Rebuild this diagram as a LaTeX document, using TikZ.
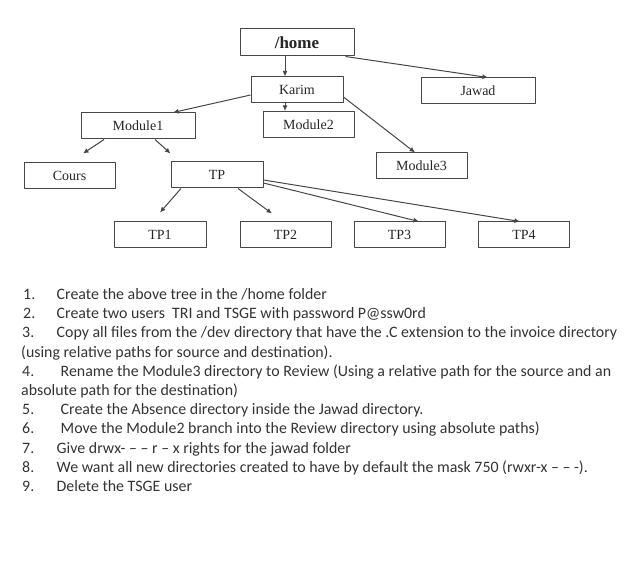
\documentclass[tikz,border=0pt]{standalone}
\usepackage{fontspec}
\setmainfont{Liberation Serif}
\newfontfamily\listfont{Carlito}
\usetikzlibrary{positioning,arrows.meta,calc}
\definecolor{linegray}{HTML}{474747}
\definecolor{textgray}{HTML}{333333}

\begin{document}
\begin{tikzpicture}[x=1pt,y=-1pt,line join=round,
  dir/.style={draw=linegray,line width=1pt,minimum width=91pt,minimum height=26pt,
    inner sep=0pt,font=\fontsize{14}{15}\selectfont,text=black!85},
  arr/.style={linegray,line width=1pt,-{Latex[length=5.5pt,width=5pt]}},
  item/.style={anchor=base west,inner sep=0pt,text=textgray,font=\listfont\fontsize{15.9}{18}\selectfont}]
  \useasboundingbox (0,0) rectangle (630,575);
  % tree
  \node[dir,minimum width=114pt,minimum height=27pt,font=\bfseries\fontsize{17}{18}\selectfont] (home) at (297,42.5) {/home};
  \node[dir,minimum width=92pt] (karim) at (297,90) {Karim};
  \node[dir,minimum width=114pt] (jawad) at (478,91) {Jawad};
  \node[dir,minimum width=114pt] (mod1) at (138,126) {Module1};
  \node[dir] (mod2) at (308.5,124.5) {Module2};
  \node[dir] (mod3) at (421.5,166) {Module3};
  \node[dir] (cours) at (69.5,176) {Cours};
  \node[dir,minimum width=92pt] (tp) at (217,175) {TP};
  \node[dir,minimum width=92pt] (tp1) at (160,235) {TP1};
  \node[dir] (tp2) at (285.5,235) {TP2};
  \node[dir] (tp3) at (399.5,235) {TP3};
  \node[dir] (tp4) at (524,235) {TP4};
  \draw[arr] ([xshift=-12pt]home.south) -- ([xshift=-12pt]karim.north);
  \draw[arr] ([xshift=-9pt]home.south east) -- ([xshift=10pt]jawad.north);
  \draw[arr] ([yshift=-5pt]karim.west) -- ([xshift=35pt]mod1.north);
  \draw[arr] ([xshift=-12pt]karim.south) -- ([xshift=-23.5pt]mod2.north);
  \draw[arr] ([yshift=-7pt]karim.east) -- ([xshift=-6.5pt]mod3.north);
  \draw[arr] ([xshift=-34pt]mod1.south) -- ([xshift=13.5pt,yshift=9pt]cours.north);
  \draw[arr] ([xshift=17pt]mod1.south) -- ([yshift=8pt]tp.north west);
  \draw[arr] ([xshift=-36pt]tp.south) -- ([yshift=9pt]tp1.north);
  \draw[arr] ([xshift=21pt]tp.south) -- ([xshift=-13.5pt,yshift=8pt]tp2.north);
  \draw[arr] ([yshift=-8pt]tp.east) -- ([xshift=19.5pt]tp3.north);
  \draw[arr] ([yshift=-5pt]tp.east) -- ([xshift=-4pt]tp4.north);
  % exercise list
  \node[item] (n1) at (23,299.5) {1.};
  \node[item] (t1) at (56.5,299.5) {Create the above tree in the /home folder};
  \node[item] (n2) at (23,318.7) {2.};
  \node[item] (t2) at (56.5,318.7) {Create two users\ \ TRI and TSGE with password P@ssw0rd};
  \node[item] (n3) at (22,337.9) {3.};
  \node[item] (t3) at (56.5,337.9) {Copy all files from the /dev directory that have the .C extension to the invoice directory};
  \node[item] (t3b) at (21,357.1) {(using relative paths for source and destination).};
  \node[item] (n4) at (22,376.3) {4.};
  \node[item] (t4) at (60.5,376.3) {Rename the Module3 directory to Review (Using a relative path for the source and an};
  \node[item] (t4b) at (21,395.5) {absolute path for the destination)};
  \node[item] (n5) at (22,414.7) {5.};
  \node[item] (t5) at (60.5,414.7) {Create the Absence directory inside the Jawad directory.};
  \node[item] (n6) at (22,433.9) {6.};
  \node[item] (t6) at (60.5,433.9) {Move the Module2 branch into the Review directory using absolute paths)};
  \node[item] (n7) at (22,453.1) {7.};
  \node[item] (t7) at (56.5,453.1) {Give drwx- – – r – x rights for the jawad folder};
  \node[item] (n8) at (22,472.3) {8.};
  \node[item] (t8) at (56.5,472.3) {We want all new directories created to have by default the mask 750 (rwxr-x – – -).};
  \node[item] (n9) at (22,491.5) {9.};
  \node[item] (t9) at (56.5,491.5) {Delete the TSGE user};
\end{tikzpicture}
\end{document}
